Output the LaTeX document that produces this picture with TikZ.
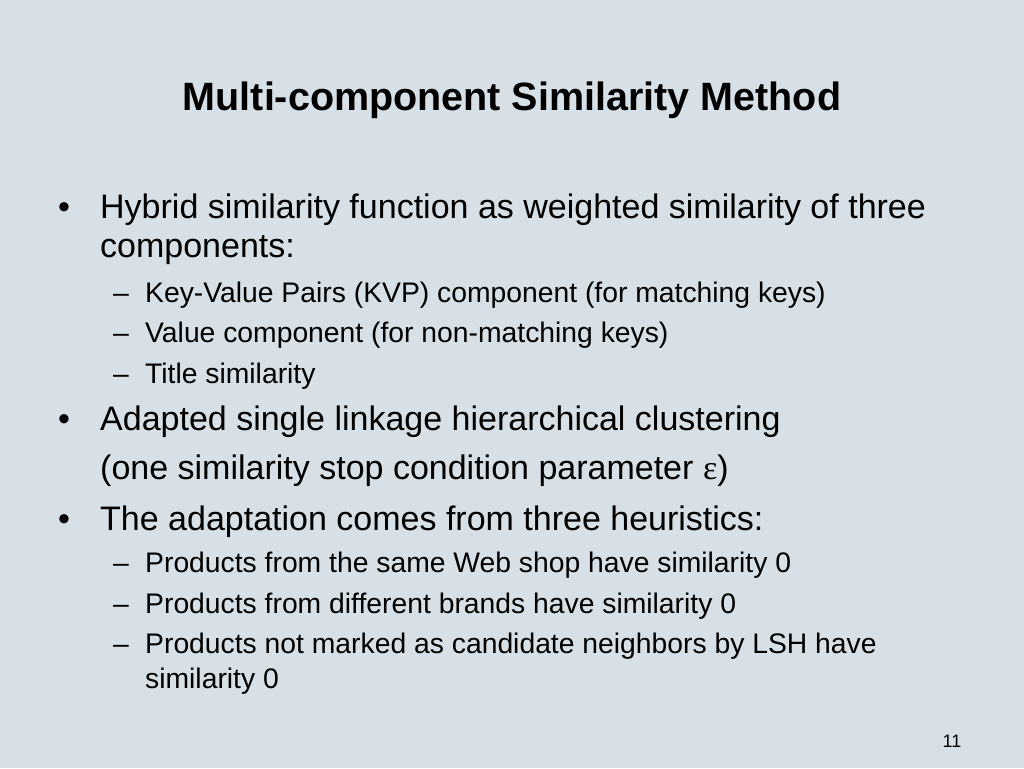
\documentclass[tikz,border=0pt]{standalone}
\usepackage{fontspec}
\setmainfont{Liberation Sans}
\newfontfamily\serifgr{Liberation Serif}
\definecolor{bg}{HTML}{D6E0E6}
\begin{document}
\begin{tikzpicture}[x=1pt,y=-1pt,
  title/.style={anchor=base,inner sep=0pt,font=\fontsize{39.5}{46}\selectfont\bfseries},
  lone/.style={anchor=base west,inner sep=0pt,font=\fontsize{34}{40}\selectfont},
  ltwo/.style={anchor=base west,inner sep=0pt,font=\fontsize{28.3}{33}\selectfont}]
\fill[bg] (0,0) rectangle (1024,768);
\useasboundingbox (0,0) rectangle (1024,768);
\node[title] (t) at (512,110) {Multi-component Similarity Method};
\node[lone] (b1) at (58,218) {•};
\node[lone] (l1) at (100,218) {Hybrid similarity function as weighted similarity of three};
\node[lone] (l2) at (100,257) {components:};
\node[ltwo] (d1) at (113,302) {–};
\node[ltwo] (s1) at (145,302) {Key-Value Pairs (KVP) component (for matching keys)};
\node[ltwo] (d2) at (113,342) {–};
\node[ltwo] (s2) at (145,342) {Value component (for non-matching keys)};
\node[ltwo] (d3) at (113,383) {–};
\node[ltwo] (s3) at (145,383) {Title similarity};
\node[lone] (b2) at (58,430) {•};
\node[lone] (l3) at (100,430) {Adapted single linkage hierarchical clustering};
\node[lone] (l4) at (100,479) {(one similarity stop condition parameter {\serifgr ε})};
\node[lone] (b3) at (58,530) {•};
\node[lone] (l5) at (100,530) {The adaptation comes from three heuristics:};
\node[ltwo] (d4) at (113,572) {–};
\node[ltwo] (s4) at (145,572) {Products from the same Web shop have similarity 0};
\node[ltwo] (d5) at (113,613) {–};
\node[ltwo] (s5) at (145,613) {Products from different brands have similarity 0};
\node[ltwo] (d6) at (113,653) {–};
\node[ltwo] (s6) at (145,653) {Products not marked as candidate neighbors by LSH have};
\node[ltwo] (s7) at (145,688) {similarity 0};
\node[anchor=base,inner sep=0pt,font=\fontsize{18}{21}\selectfont] (n) at (952,747) {11};
\end{tikzpicture}
\end{document}
